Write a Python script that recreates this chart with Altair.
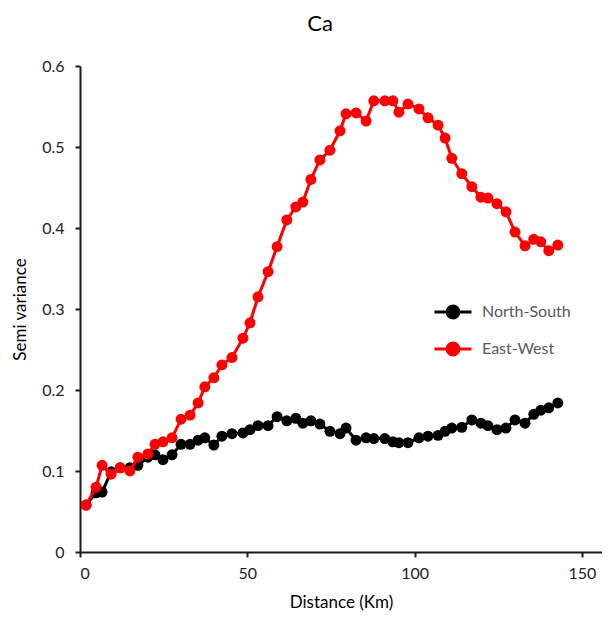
import altair as alt
import pandas as pd

distance_km = [1.8, 4.8, 6.6, 9.3, 12.0, 14.9, 17.3, 20.3, 22.4, 24.8,
               27.5, 30.2, 32.9, 35.3, 37.3, 40.0, 42.4, 45.4, 48.7, 50.8,
               53.2, 56.2, 58.9, 61.8, 64.5, 66.6, 69.0, 71.7, 74.7, 77.7,
               79.5, 82.5, 85.5, 87.8, 91.1, 93.5, 95.3, 98.0, 101.3, 104.0,
               107.0, 109.1, 111.1, 114.1, 117.1, 119.8, 121.9, 124.6, 127.3, 130.0,
               133.0, 135.6, 137.7, 140.1, 142.8]

north_south = [0.058, 0.073, 0.074, 0.099, 0.104, 0.104, 0.107, 0.117, 0.120, 0.114,
               0.120, 0.133, 0.133, 0.138, 0.141, 0.132, 0.143, 0.146, 0.147, 0.151,
               0.156, 0.156, 0.167, 0.162, 0.165, 0.159, 0.162, 0.158, 0.149, 0.146,
               0.153, 0.138, 0.141, 0.140, 0.140, 0.136, 0.135, 0.135, 0.141, 0.143,
               0.144, 0.149, 0.153, 0.154, 0.163, 0.159, 0.156, 0.151, 0.153, 0.163,
               0.159, 0.170, 0.175, 0.178, 0.184]

east_west = [0.058, 0.080, 0.107, 0.096, 0.104, 0.100, 0.117, 0.121, 0.133, 0.136,
             0.141, 0.164, 0.169, 0.184, 0.204, 0.215, 0.231, 0.240, 0.264, 0.283,
             0.315, 0.346, 0.377, 0.410, 0.426, 0.432, 0.460, 0.484, 0.496, 0.520,
             0.541, 0.542, 0.532, 0.557, 0.557, 0.557, 0.543, 0.553, 0.547, 0.536,
             0.527, 0.511, 0.486, 0.467, 0.451, 0.438, 0.437, 0.430, 0.420, 0.395,
             0.378, 0.386, 0.383, 0.372, 0.379]

series_names = ["North-South", "East-West"]
series_colors = ["#000000", "#FF0000"]
x_ticks = [0, 50, 100, 150]
y_ticks = [0, 0.1, 0.2, 0.3, 0.4, 0.5, 0.6]

df = pd.DataFrame({
    "Distance": distance_km + distance_km,
    "Semi": north_south + east_west,
    "Series": [series_names[0]] * len(distance_km) + [series_names[1]] * len(distance_km),
})

FONT = "Lato"

x = alt.X("Distance:Q",
          scale=alt.Scale(domain=[0, 156], nice=False),
          axis=alt.Axis(values=x_ticks, title="Distance (Km)", titleY=50,
                        titleBaseline="middle", labelPadding=8))
y = alt.Y("Semi:Q",
          scale=alt.Scale(domain=[0, 0.6], nice=False),
          axis=alt.Axis(values=y_ticks, format="~g", title="Semi variance",
                        titleX=-60, titleY=243, titleBaseline="middle",
                        titleAngle=-90, titleAlign="center", labelPadding=11))
color = alt.Color("Series:N",
                  scale=alt.Scale(domain=series_names, range=series_colors),
                  legend=alt.Legend(title=None, orient="none", legendX=353, legendY=226,
                                    symbolType="M-1,0H1M-0.32,0A0.32,0.32,0,1,0,0.32,0A0.32,0.32,0,1,0,-0.32,0Z",
                                    symbolSize=1369, symbolStrokeWidth=3, symbolOpacity=1,
                                    labelFontSize=16, labelColor="#595959", labelFont=FONT,
                                    labelOffset=9, rowPadding=5))

layers = []
for name in series_names:
    base = alt.Chart(df).transform_filter(alt.datum.Series == name).encode(x=x, y=y, color=color)
    layers.append(base.mark_line(strokeWidth=3))
    layers.append(base.mark_point(filled=True, size=120, opacity=1))

chart = alt.layer(*layers).properties(
    width=522, height=486,
    autosize=alt.AutoSizeParams(type="none"),
    padding={"left": 72, "top": 58, "right": 0, "bottom": 59},
    title=alt.TitleParams("Ca", fontSize=22, font=FONT, fontWeight="normal",
                          color="#000000", offset=22, dx=-21),
).configure_view(stroke=None).configure_axis(
    grid=False, domainColor="#1a1a1a", domainWidth=2, tickColor="#1a1a1a", tickWidth=2,
    tickSize=5, labelFont=FONT, labelFontSize=16, labelColor="#222222",
    titleFont=FONT, titleFontSize=17, titleFontWeight="normal", titleColor="#000000",
)

chart.save("out.html", embed_options={"renderer": "svg", "actions": False})
